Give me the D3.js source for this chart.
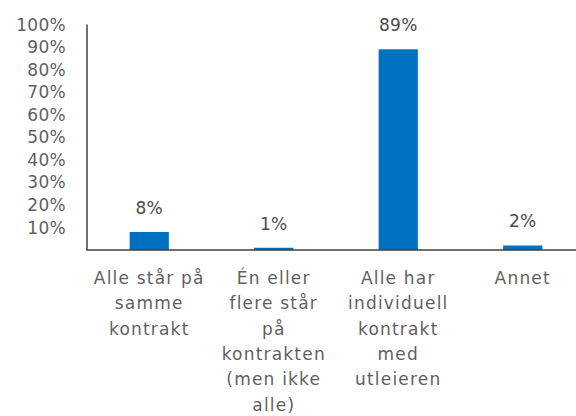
<!DOCTYPE html>
<html lang="no">
<head>
<meta charset="UTF-8">
<script src="https://d3js.org/d3.v7.min.js"></script>
<style>
    body { margin: 0; padding: 0; background: #fff; }
    svg { display: block; font-family: "DejaVu Sans", sans-serif; }
    .tick-label { font-size: 17px; fill: #5f5f5f; letter-spacing: 0.3px; }
    .cat-label { font-size: 17px; fill: #5f5f5f; text-anchor: middle; letter-spacing: 1.2px; }
    .value-label { font-size: 17px; fill: #4a4a4a; text-anchor: middle; letter-spacing: 0.3px; }
    .bar { fill: #0070C0; }
</style>
</head>
<body>
<svg width="576" height="416"></svg>
<script>
    // data
    const categories = [
        ["Alle står på", "samme", "kontrakt"],
        ["Én eller", "flere står", "på", "kontrakten", "(men ikke", "alle)"],
        ["Alle har", "individuell", "kontrakt", "med", "utleieren"],
        ["Annet"]
    ];
    const values = [8, 1, 89, 2];
    const yTicks = [10, 20, 30, 40, 50, 60, 70, 80, 90, 100];

    const svg = d3.select("svg");
    const plotLeft = 87, plotRight = 585, plotTop = 24.5, plotBottom = 250;

    const x = d3.scaleBand()
        .domain(d3.range(values.length))
        .range([plotLeft, plotRight])
        .padding(0);

    const y = d3.scaleLinear()
        .domain([0, 100])
        .range([plotBottom, plotTop]);

    const barW = x.step() * 0.315;

    // y tick labels
    svg.append("g")
        .selectAll("text")
        .data(yTicks)
        .enter()
        .append("text")
        .attr("class", "tick-label")
        .attr("x", 66)
        .attr("y", d => y(d))
        .attr("dy", "0.36em")
        .attr("text-anchor", "end")
        .text(d => d + "%");

    // bars
    svg.selectAll(".bar")
        .data(values)
        .enter()
        .append("rect")
        .attr("class", "bar")
        .attr("x", (d, i) => x(i) + x.bandwidth() / 2 - barW / 2)
        .attr("y", d => y(d))
        .attr("width", barW)
        .attr("height", d => plotBottom - y(d));

    // value labels
    svg.selectAll(".value-label")
        .data(values)
        .enter()
        .append("text")
        .attr("class", "value-label")
        .attr("x", (d, i) => x(i) + x.bandwidth() / 2)
        .attr("y", d => y(d) - 18)
        .text(d => d + "%");

    // axes lines
    svg.append("line")
        .attr("x1", plotLeft).attr("x2", plotLeft)
        .attr("y1", plotTop).attr("y2", plotBottom)
        .attr("stroke", "#404040").attr("stroke-width", 1.5);
    svg.append("line")
        .attr("x1", plotLeft - 0.75).attr("x2", plotRight)
        .attr("y1", plotBottom).attr("y2", plotBottom)
        .attr("stroke", "#404040").attr("stroke-width", 1.5);

    // category labels
    const cat = svg.selectAll(".cat-label")
        .data(categories)
        .enter()
        .append("text")
        .attr("class", "cat-label")
        .attr("x", (d, i) => x(i) + x.bandwidth() / 2)
        .attr("y", 278);
    cat.selectAll("tspan")
        .data(d => d)
        .enter()
        .append("tspan")
        .attr("x", function () { return this.parentNode.getAttribute("x"); })
        .attr("dy", (d, i) => i === 0 ? "0.36em" : 25.3)
        .text(d => d);
</script>
</body>
</html>
